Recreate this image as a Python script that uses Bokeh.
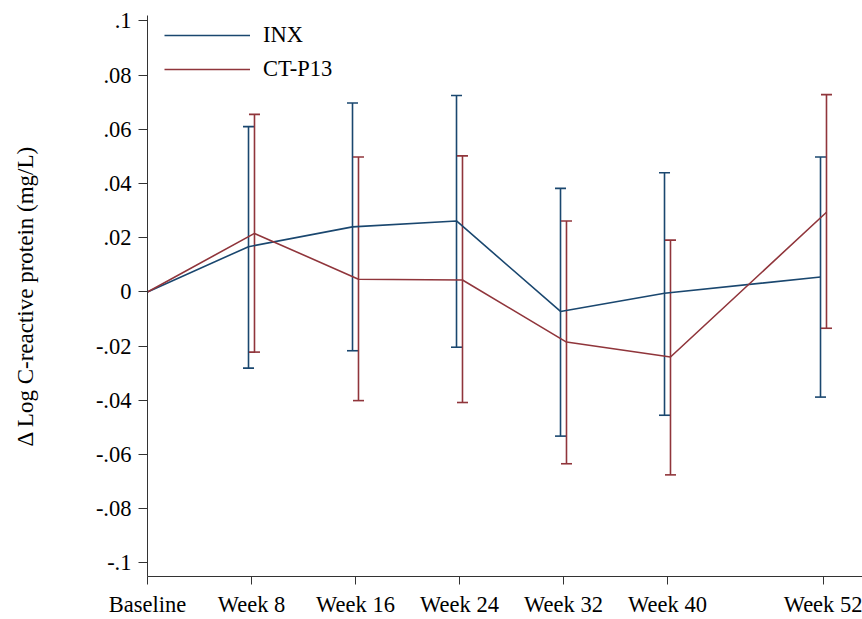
from bokeh.plotting import figure
from bokeh.models import (ColumnDataSource, Whisker, TeeHead, FixedTicker,
                          CustomJSTickFormatter, Legend, LegendItem, Range1d)
from bokeh.embed import file_html
from bokeh.resources import INLINE

# ---- data ----
weeks = [0, 8, 16, 24, 32, 40, 52]
week_labels = ["Baseline", "Week 8", "Week 16", "Week 24", "Week 32", "Week 40", "Week 52"]

inx_mean = [0.0, 0.0167, 0.0240, 0.0262, -0.0072, -0.0005, 0.0055]
inx_upper = [None, 0.0610, 0.0697, 0.0725, 0.0382, 0.0440, 0.0498]
inx_lower = [None, -0.0281, -0.0217, -0.0204, -0.0532, -0.0455, -0.0388]

ctp_mean = [0.0, 0.0216, 0.0047, 0.0044, -0.0185, -0.0240, 0.0294]
ctp_upper = [None, 0.0655, 0.0498, 0.0502, 0.0262, 0.0191, 0.0728]
ctp_lower = [None, -0.0222, -0.0401, -0.0408, -0.0634, -0.0675, -0.0134]

y_ticks = [-0.1, -0.08, -0.06, -0.04, -0.02, 0.0, 0.02, 0.04, 0.06, 0.08, 0.1]

# ---- style ----
INX_COLOR = "#1a476f"
CTP_COLOR = "#90353b"
FONT = "Liberation Serif"
FS = "22.5px"
OFFSET = 0.23

def shifted(ws, off):
    return [w + off if w > 0 else w for w in ws]

p = figure(width=862, height=619, output_backend="svg", toolbar_location=None,
           x_range=Range1d(0, 55), y_range=Range1d(-0.105, 0.102))
p.min_border_left = 147
p.min_border_top = 15
p.min_border_right = 0
p.min_border_bottom = 42
p.outline_line_color = None
p.grid.visible = False
p.background_fill_color = "white"
p.border_fill_color = "white"

inx_x = shifted(weeks, -OFFSET)
ctp_x = shifted(weeks, OFFSET)

r_inx = p.line(inx_x, inx_mean, line_color=INX_COLOR, line_width=1.6)
r_ctp = p.line(ctp_x, ctp_mean, line_color=CTP_COLOR, line_width=1.6)

def add_whisker(xs, up, lo, color):
    idx = [i for i in range(len(xs)) if up[i] is not None]
    src = ColumnDataSource(dict(base=[xs[i] for i in idx],
                                upper=[up[i] for i in idx],
                                lower=[lo[i] for i in idx]))
    w = Whisker(source=src, base="base", upper="upper", lower="lower",
                dimension="height", line_color=color, line_width=1.6,
                upper_head=TeeHead(size=11, line_color=color, line_width=1.6),
                lower_head=TeeHead(size=11, line_color=color, line_width=1.6))
    p.add_layout(w)

add_whisker(inx_x, inx_upper, inx_lower, INX_COLOR)
add_whisker(ctp_x, ctp_upper, ctp_lower, CTP_COLOR)

# axes
xa = p.xaxis[0]
xa.ticker = FixedTicker(ticks=weeks)
xa.major_label_overrides = {w: l for w, l in zip(weeks, week_labels)}
xa.major_tick_out = 8
xa.major_tick_in = 0
xa.minor_tick_line_color = None
xa.major_label_standoff = 7
xa.major_label_text_font = FONT
xa.major_label_text_font_size = FS
xa.major_label_text_color = "black"
xa.axis_line_color = "#333333"
xa.major_tick_line_color = "#333333"

ya = p.yaxis[0]
ya.ticker = FixedTicker(ticks=y_ticks)
ya.formatter = CustomJSTickFormatter(code="""
let s = tick.toFixed(2);
if (s.indexOf('.') >= 0) { s = s.replace(/0+$/, '').replace(/\\.$/, ''); }
if (s === '-0') s = '0';
s = s.replace(/^(-?)0\\./, '$1.');
return s;
""")
ya.major_tick_out = 9
ya.major_tick_in = 0
ya.minor_tick_line_color = None
ya.major_label_standoff = 7
ya.major_label_orientation = "horizontal"
ya.major_label_text_font = FONT
ya.major_label_text_font_size = FS
ya.major_label_text_color = "black"
ya.axis_line_color = "#333333"
ya.major_tick_line_color = "#333333"
ya.axis_label = "\u0394 Log C-reactive protein (mg/L)"
ya.axis_label_text_font = FONT
ya.axis_label_text_font_size = "23px"
ya.axis_label_text_font_style = "normal"
ya.axis_label_text_color = "black"
ya.axis_label_standoff = 55

legend = Legend(items=[LegendItem(label="INX", renderers=[r_inx]),
                       LegendItem(label="CT-P13", renderers=[r_ctp])],
                location=(17, 494), orientation="vertical")
legend.border_line_color = None
legend.background_fill_alpha = 0
legend.padding = 0
legend.margin = 0
legend.spacing = 8
legend.glyph_width = 86
legend.glyph_height = 24
legend.label_height = 24
legend.label_standoff = 13
legend.label_text_font = FONT
legend.label_text_font_size = FS
legend.label_text_color = "black"
p.add_layout(legend)

open("out.html", "w").write(file_html(p, INLINE))
